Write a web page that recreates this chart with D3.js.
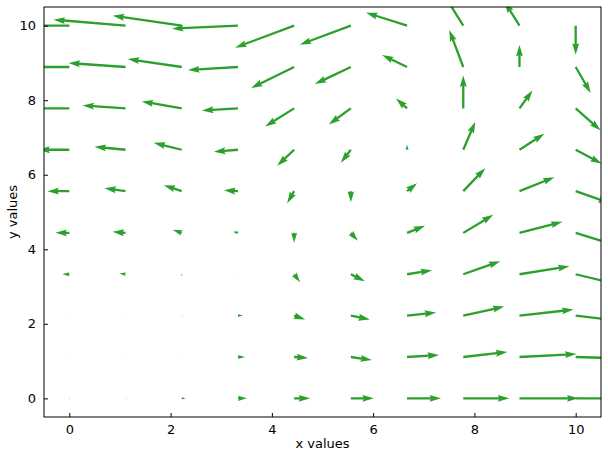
<!DOCTYPE html>
<html>
<head>
<meta charset="utf-8">
<script src="https://cdn.jsdelivr.net/npm/d3@7"></script>
<style>
  body { margin: 0; background: #fff; }
  text { font-family: "DejaVu Sans", sans-serif; }
</style>
</head>
<body>
<svg id="chart" width="608" height="458"></svg>
<script>
// grid positions
var xs = [ 0, 1.11, 2.22, 3.33, 4.44, 5.56, 6.67, 7.78, 8.89, 10 ];
var ys = [ 0, 1.11, 2.22, 3.33, 4.44, 5.56, 6.67, 7.78, 8.89, 10 ];

// u components, one row per y value (bottom to top)
var uRows = [
  [ 0.1, 0.1, 0.4, 0.9, 1.6, 2.3, 3.4, 4.6, 5.9, 7.0 ],
  [ 0.05, 0.05, 0.1, 0.7, 1.4, 2.1, 3.2, 4.4, 5.7, 6.5 ],
  [ 0.05, 0.05, 0.1, 0.5, 1.1, 1.9, 2.9, 4.1, 5.4, 5.8 ],
  [ -0.7, -0.6, 0.0, 0.05, 0.6, 1.4, 2.5, 3.7, 5.0, 5.0 ],
  [ -1.4, -1.3, -0.9, -0.5, 0.0, 0.7, 1.8, 3.0, 4.3, 4.2 ],
  [ -2.2, -2.1, -1.8, -1.4, -0.7, 0.0, 1.0, 2.2, 3.5, 3.4 ],
  [ -3.1, -3.1, -2.8, -2.4, -1.7, -1.0, 0.0, 1.2, 2.5, 2.6 ],
  [ -4.3, -4.3, -4.0, -3.6, -2.9, -2.2, -1.1, 0.0, 1.3, 2.5 ],
  [ -5.7, -5.7, -5.4, -5.0, -4.3, -3.6, -2.5, -1.4, 0.0, 1.5 ],
  [ -7.2, -7.2, -6.9, -6.6, -5.9, -5.1, -4.1, -2.5, -1.5, 0.0 ]
];

// v components (positive up)
var vRows = [
  [ 0, 0, 0, 0, 0, 0, 0, 0, 0, 0 ],
  [ 0, 0, 0, 0, -0.1, -0.3, 0.2, 0.5, 0.3, -0.2 ],
  [ 0, 0, 0, 0, -0.4, -0.4, 0.3, 0.9, 0.6, -0.7 ],
  [ 0, 0.1, -0.2, 0, -0.8, -0.7, 0.4, 1.3, 0.8, -1.2 ],
  [ 0, 0.1, 0.3, 0.1, -1.0, -0.8, 0.7, 1.8, 1.1, -1.3 ],
  [ 0, 0.3, 0.6, 0.1, -1.2, -1.1, 0.8, 2.3, 1.4, -1.2 ],
  [ 0, 0.3, 0.7, -0.2, -1.6, -1.3, 0.5, 2.8, 1.6, -1.4 ],
  [ 0, 0.3, 0.7, -0.2, -1.8, -1.6, 1.0, 3.3, 1.8, -2.2 ],
  [ 0, 0.4, 0.8, -0.3, -2.1, -1.7, 1.2, 3.7, 2.2, -2.6 ],
  [ 0, 0.6, 1.0, -0.3, -2.2, -1.9, 1.3, 4.0, 2.4, -2.9 ]
];

var xTicks = [ 0, 2, 4, 6, 8, 10 ];
var yTicks = [ 0, 2, 4, 6, 8, 10 ];

( function() {

  var svg = d3.select( '#chart' );
  var mLeft = 44, mRight = 601, mTop = 7, mBottom = 417;

  var x = d3.scaleLinear().domain( [ -0.5, 10.5 ] ).range( [ mLeft, mRight ] );
  var y = d3.scaleLinear().domain( [ -0.5, 10.5 ] ).range( [ mBottom, mTop ] );
  // quiver scale: data units of u/v to pixels
  var q = d3.scaleLinear().domain( [ 0, 1 ] ).range( [ 0, 10 ] );

  svg.append( 'clipPath' ).attr( 'id', 'clip' )
    .append( 'rect' ).attr( 'x', mLeft ).attr( 'y', mTop )
    .attr( 'width', mRight - mLeft ).attr( 'height', mBottom - mTop );

  // build the arrows
  var arrows = [];
  ys.forEach( ( yv, i ) => {
    xs.forEach( ( xv, j ) => {
      arrows.push( { x: xv, y: yv, u: uRows[ i ][ j ], v: vRows[ i ][ j ] } );
    } );
  } );

  // matplotlib-like arrow polygon along +x axis, length L
  function arrowPath( L ) {
    var w = 2.3, hl = 5 * w, hal = 4.5 * w, hw = 3 * w / 2, sw = w / 2;
    var s = 1;
    if ( L < hl ) { s = L / hl; L = hl; }
    var pts = [
      [ 0, -sw ], [ L - hal, -sw ], [ L - hl, -hw ], [ L, 0 ],
      [ L - hl, hw ], [ L - hal, sw ], [ 0, sw ]
    ];
    return 'M' + pts.map( p => ( p[ 0 ] * s ) + ',' + ( p[ 1 ] * s ) ).join( 'L' ) + 'Z';
  }

  svg.append( 'g' ).attr( 'clip-path', 'url(#clip)' )
    .selectAll( 'path' ).data( arrows ).enter().append( 'path' )
    .attr( 'fill', '#2ca02c' )
    .attr( 'd', d => arrowPath( q( Math.hypot( d.u, d.v ) ) ) )
    .attr( 'transform', d => 'translate(' + x( d.x ) + ',' + y( d.y ) + ') rotate(' +
      ( -Math.atan2( d.v, d.u ) * 180 / Math.PI ) + ')' );

  // axes
  var xAxis = d3.axisBottom( x ).tickValues( xTicks ).tickSizeInner( -4 ).tickSizeOuter( 0 ).tickPadding( 8 );
  var yAxis = d3.axisLeft( y ).tickValues( yTicks ).tickSizeInner( -4 ).tickSizeOuter( 0 ).tickPadding( 8 );

  var gx = svg.append( 'g' ).attr( 'transform', 'translate(0,' + mBottom + ')' ).call( xAxis );
  var gy = svg.append( 'g' ).attr( 'transform', 'translate(' + mLeft + ',0)' ).call( yAxis );
  [ gx, gy ].forEach( g => {
    g.select( '.domain' ).remove();
    g.selectAll( 'text' ).attr( 'font-size', 13 ).attr( 'fill', '#000' ).style( 'font-family', 'DejaVu Sans' );
    g.selectAll( 'line' ).attr( 'stroke', '#000' );
  } );

  svg.append( 'rect' ).attr( 'x', mLeft ).attr( 'y', mTop )
    .attr( 'width', mRight - mLeft ).attr( 'height', mBottom - mTop )
    .attr( 'fill', 'none' ).attr( 'stroke', '#000' ).attr( 'stroke-width', 1 );

  svg.append( 'text' ).attr( 'x', ( mLeft + mRight ) / 2 ).attr( 'y', 448 )
    .attr( 'text-anchor', 'middle' ).attr( 'font-size', 13 ).text( 'x values' );
  svg.append( 'text' ).attr( 'transform', 'translate(17,' + ( ( mTop + mBottom ) / 2 ) + ') rotate(-90)' )
    .attr( 'text-anchor', 'middle' ).attr( 'font-size', 13 ).text( 'y values' );

} )();
</script>
</body>
</html>
